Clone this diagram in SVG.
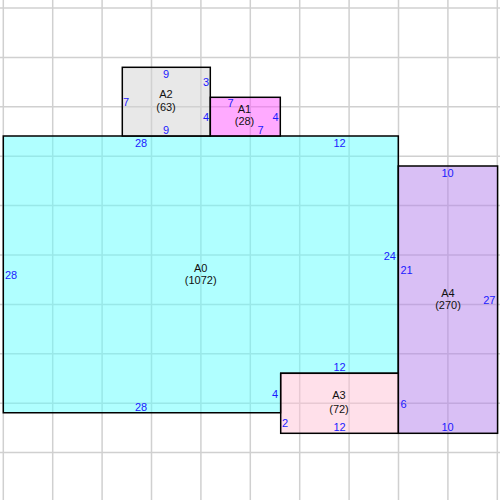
<svg xmlns="http://www.w3.org/2000/svg" width="500" height="500" viewBox="0 0 500 500">
<style>
.grid line{stroke:#d0d0d0;stroke-width:1.5}
.room{stroke:#000;stroke-width:1.5;fill-opacity:0.5}
.lbl{font-family:"Liberation Sans",Arial,sans-serif;font-size:11px;fill:#1a1aff}
.name{font-family:"Liberation Sans",Arial,sans-serif;font-size:11px;fill:#111;text-anchor:middle}
.m{text-anchor:middle}
.e{text-anchor:end}
</style>
<rect width="500" height="500" fill="#fff"/>
<g class="grid">
<line x1="3.3" y1="0" x2="3.3" y2="500"/>
<line x1="52.7" y1="0" x2="52.7" y2="500"/>
<line x1="102.1" y1="0" x2="102.1" y2="500"/>
<line x1="151.5" y1="0" x2="151.5" y2="500"/>
<line x1="200.9" y1="0" x2="200.9" y2="500"/>
<line x1="250.3" y1="0" x2="250.3" y2="500"/>
<line x1="299.7" y1="0" x2="299.7" y2="500"/>
<line x1="349.1" y1="0" x2="349.1" y2="500"/>
<line x1="398.5" y1="0" x2="398.5" y2="500"/>
<line x1="447.9" y1="0" x2="447.9" y2="500"/>
<line x1="497.3" y1="0" x2="497.3" y2="500"/>
<line x1="0" y1="8" x2="500" y2="8"/>
<line x1="0" y1="57.4" x2="500" y2="57.4"/>
<line x1="0" y1="106.8" x2="500" y2="106.8"/>
<line x1="0" y1="156.2" x2="500" y2="156.2"/>
<line x1="0" y1="205.6" x2="500" y2="205.6"/>
<line x1="0" y1="255" x2="500" y2="255"/>
<line x1="0" y1="304.4" x2="500" y2="304.4"/>
<line x1="0" y1="353.8" x2="500" y2="353.8"/>
<line x1="0" y1="403.2" x2="500" y2="403.2"/>
<line x1="0" y1="452.6" x2="500" y2="452.6"/>
</g>
<g id="A0">
<polygon class="room" fill="#61ffff" points="3.3,136 398.3,136 398.3,373.3 280.7,373.3 280.7,412.7 3.3,412.7"/>
<text class="name" x="200.7" y="272">A0</text>
<text class="name" x="200.7" y="284">(1072)</text>
<text class="lbl m" x="141" y="147">28</text>
<text class="lbl m" x="339.5" y="147">12</text>
<text class="lbl" x="5" y="279">28</text>
<text class="lbl e" x="396" y="260">24</text>
<text class="lbl m" x="141" y="411">28</text>
<text class="lbl m" x="339.5" y="371">12</text>
<text class="lbl e" x="278" y="398">4</text>
</g>
<g id="A2">
<rect class="room" fill="#d1d1d1" x="122.3" y="67.3" width="88" height="68.7"/>
<text class="name" x="166" y="98">A2</text>
<text class="name" x="166" y="111">(63)</text>
<text class="lbl m" x="166" y="78">9</text>
<text class="lbl" x="123" y="106">7</text>
<text class="lbl e" x="209" y="86">3</text>
<text class="lbl e" x="209" y="121">4</text>
<text class="lbl m" x="166" y="134">9</text>
</g>
<g id="A1">
<rect class="room" fill="#ff55ff" x="210.3" y="97.3" width="70" height="38.7"/>
<text class="name" x="244.5" y="113">A1</text>
<text class="name" x="244.5" y="125">(28)</text>
<text class="lbl m" x="230.5" y="107">7</text>
<text class="lbl e" x="278.5" y="121">4</text>
<text class="lbl m" x="260.5" y="134">7</text>
</g>
<g id="A4">
<rect class="room" fill="#b37feb" x="398.3" y="166" width="99.3" height="267.3"/>
<text class="name" x="448" y="297">A4</text>
<text class="name" x="448" y="309">(270)</text>
<text class="lbl m" x="447.5" y="177">10</text>
<text class="lbl" x="400.5" y="274">21</text>
<text class="lbl e" x="495.5" y="304">27</text>
<text class="lbl m" x="447.5" y="431">10</text>
</g>
<g id="A3">
<rect class="room" fill="#ffc1d5" x="280.7" y="373.3" width="117.6" height="60"/>
<text class="name" x="339" y="399">A3</text>
<text class="name" x="339" y="413">(72)</text>
<text class="lbl" x="282" y="427">2</text>
<text class="lbl m" x="339.5" y="431">12</text>
<text class="lbl" x="400.5" y="408">6</text>
</g>
</svg>
